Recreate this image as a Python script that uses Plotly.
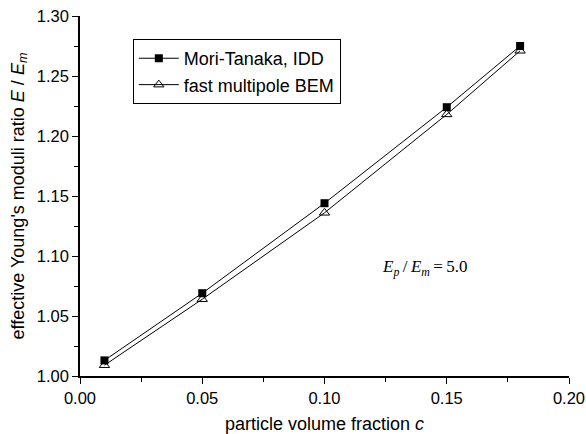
import plotly.graph_objects as go

c = [0.01, 0.05, 0.10, 0.15, 0.18]
mori_tanaka = [1.013, 1.069, 1.144, 1.224, 1.275]
fmm_bem = [1.009, 1.064, 1.136, 1.218, 1.271]

FONT = "Arial, Liberation Sans"

fig = go.Figure()
fig.add_trace(go.Scatter(x=c, y=mori_tanaka, mode="lines+markers", name="Mori-Tanaka, IDD",
                         line=dict(color="black", width=1),
                         marker=dict(symbol="square", size=8, color="black")))
fig.add_trace(go.Scatter(x=c, y=fmm_bem, mode="lines+markers", name="fast multipole BEM",
                         line=dict(color="black", width=1),
                         marker=dict(symbol="triangle-up-open", size=9, color="black", line=dict(width=1))))

axis_common = dict(showline=True, linecolor="black", linewidth=1.5, ticks="outside",
                   ticklen=6, tickcolor="black", tickwidth=1, showgrid=False, zeroline=False,
                   tickfont=dict(family=FONT, size=16.5, color="black"),
                   mirror=False, automargin=False)
fig.update_xaxes(range=[0, 0.2], dtick=0.05, tickformat=".2f",
                 minor=dict(ticks="outside", ticklen=4, dtick=0.025, tickcolor="black"),
                 title=dict(text="particle volume fraction <i>c</i>",
                            font=dict(family=FONT, size=18, color="black"),
                            standoff=14),
                 **axis_common)
fig.update_yaxes(range=[1.0, 1.3], dtick=0.05, tickformat=".2f",
                 minor=dict(ticks="outside", ticklen=4, dtick=0.025, tickcolor="black"),
                 title=dict(text="effective Young's moduli ratio <i>E</i> / <i>E</i><sub><i>m</i></sub>",
                            font=dict(family=FONT, size=18, color="black"),
                            standoff=8),
                 **axis_common)

fig.add_annotation(x=0.1225, y=1.09, xref="x", yref="y", showarrow=False,
                   text="<i>E</i><sub><i>p</i></sub>\u2009/\u2009<i>E</i><sub><i>m</i></sub>\u2009=\u20095.0",
                   font=dict(family="Times New Roman, Liberation Serif", size=17, color="black"),
                   xanchor="left")

fig.update_layout(
    width=586, height=434,
    margin=dict(l=80, r=17, t=16, b=58),
    paper_bgcolor="white", plot_bgcolor="white",
    showlegend=True,
    legend=dict(x=0.108, y=0.936, xanchor="left", yanchor="top",
                bordercolor="black", borderwidth=1, bgcolor="white",
                font=dict(family=FONT, size=18, color="black"),
                itemwidth=40, tracegroupgap=0),
)

fig.write_html("out.html")
